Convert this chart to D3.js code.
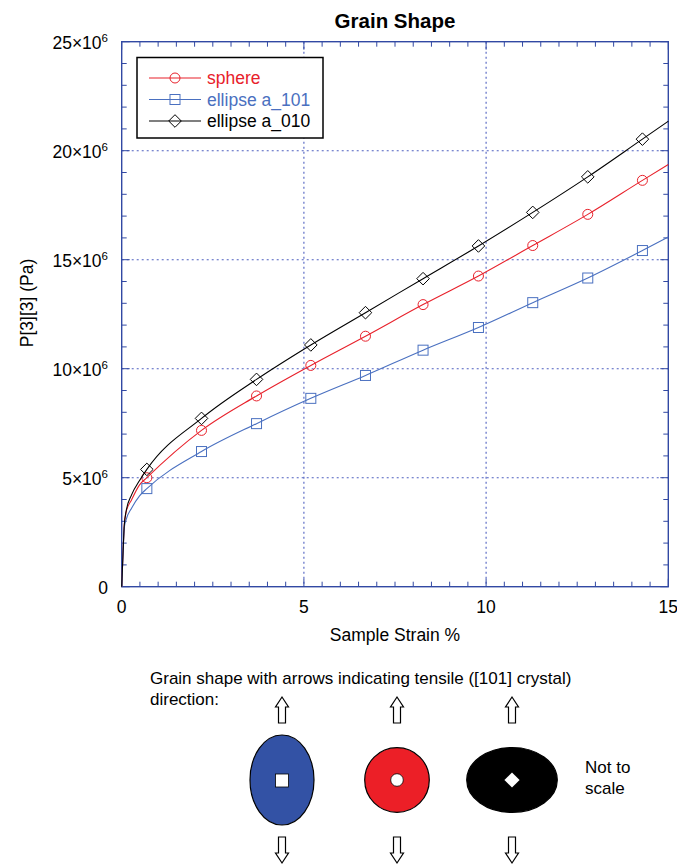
<!DOCTYPE html>
<html>
<head>
<meta charset="utf-8">
<script src="https://cdn.jsdelivr.net/npm/d3@7"></script>
<style>
  html, body { margin: 0; padding: 0; background: #fff; }
  svg { display: block; font-family: "Liberation Sans", Arial, Helvetica, sans-serif; }
</style>
</head>
<body>
<svg id="chart" width="677" height="865"></svg>
<script>
// Strain samples (%) along each simulated curve
const strain = [0, 0.04, 0.07, 0.12, 0.27, 0.49, 0.69, 2.19, 3.70, 5.19, 6.69, 8.27, 9.79, 11.28, 12.79, 14.29, 15];
// indices of the strain samples that carry a symbol
const markerIdx = [6, 7, 8, 9, 10, 11, 12, 13, 14, 15];

// P[3][3] stress in units of 10^6 Pa
const sphere   = [0, 1.70, 2.80, 3.42, 3.98, 4.67, 5.00, 7.17, 8.75, 10.15, 11.49, 12.94, 14.25, 15.65, 17.08, 18.64, 19.37];
const ellipse101 = [0, 1.68, 2.70, 3.07, 3.60, 4.17, 4.50, 6.20, 7.48, 8.64, 9.69, 10.85, 11.89, 13.03, 14.16, 15.42, 16.04];
const ellipse010 = [0, 1.70, 2.80, 3.45, 4.21, 4.87, 5.38, 7.72, 9.51, 11.09, 12.57, 14.13, 15.63, 17.17, 18.80, 20.53, 21.35];

const seriesNames = ["sphere", "ellipse a_101", "ellipse a_010"];
const seriesValues = [sphere, ellipse101, ellipse010];
const seriesColors = ["#e8212b", "#4a70c0", "#000000"];
const seriesSymbols = ["circle", "square", "diamond"];

const xTicks = [0, 5, 10, 15];
const yTicks = [0, 5, 10, 15, 20, 25];   // x 10^6

const svg = d3.select("#chart");
const frameColor = "#3249a3";
const gridColor = "#4f60c0";

const x = d3.scaleLinear().domain([0, 15]).range([121.7, 668.3]);
const y = d3.scaleLinear().domain([0, 25]).range([586.7, 41.7]);

// dotted grid
const grid = svg.append("g");
grid.selectAll("line.gx").data(xTicks.slice(1, -1)).join("line")
  .attr("x1", d => x(d)).attr("x2", d => x(d))
  .attr("y1", y(25)).attr("y2", y(0))
  .attr("stroke", gridColor).attr("stroke-width", 1.1).attr("stroke-dasharray", "2,3");
grid.selectAll("line.gy").data(yTicks.slice(1, -1)).join("line")
  .attr("x1", x(0)).attr("x2", x(15))
  .attr("y1", d => y(d)).attr("y2", d => y(d))
  .attr("stroke", gridColor).attr("stroke-width", 1.1).attr("stroke-dasharray", "2,3");

// inward ticks on all four sides
const ticks = svg.append("g").attr("stroke", frameColor).attr("stroke-width", 1);
const xMinor = d3.range(0, 15.01, 0.5);
const yMinor = d3.range(0, 25.01, 1);
xMinor.forEach(v => {
  const len = (v % 5 === 0) ? 8 : 5;
  ticks.append("line").attr("x1", x(v)).attr("x2", x(v)).attr("y1", y(0)).attr("y2", y(0) - len);
  ticks.append("line").attr("x1", x(v)).attr("x2", x(v)).attr("y1", y(25)).attr("y2", y(25) + len);
});
yMinor.forEach(v => {
  const len = (v % 5 === 0) ? 8 : 5;
  ticks.append("line").attr("x1", x(0)).attr("x2", x(0) + len).attr("y1", y(v)).attr("y2", y(v));
  ticks.append("line").attr("x1", x(15)).attr("x2", x(15) - len).attr("y1", y(v)).attr("y2", y(v));
});

// frame
svg.append("rect")
  .attr("x", x(0)).attr("y", y(25))
  .attr("width", x(15) - x(0)).attr("height", y(0) - y(25))
  .attr("fill", "none").attr("stroke", frameColor).attr("stroke-width", 1.4);

// x tick labels
svg.append("g").selectAll("text").data(xTicks).join("text")
  .attr("x", d => x(d)).attr("y", 613)
  .attr("text-anchor", "middle").attr("font-size", 17.5).text(d => d);

// y tick labels with power-of-ten notation
const yl = svg.append("g").selectAll("text").data(yTicks).join("text")
  .attr("x", 108).attr("y", d => y(d) + 7)
  .attr("text-anchor", "end").attr("font-size", 17.5);
yl.each(function(d) {
  const t = d3.select(this);
  if (d === 0) { t.text("0"); return; }
  t.append("tspan").text(d + "\u00d710");
  t.append("tspan").attr("font-size", 11.5).attr("dy", -7).text("6");
});

// axis titles
svg.append("text").attr("x", 395).attr("y", 641).attr("text-anchor", "middle")
  .attr("font-size", 17.5).text("Sample Strain %");
svg.append("text").attr("transform", "translate(33,303) rotate(-90)")
  .attr("text-anchor", "middle").attr("font-size", 17.5).text("P[3][3] (Pa)");
svg.append("text").attr("x", 395).attr("y", 27.5).attr("text-anchor", "middle")
  .attr("font-size", 20.5).attr("font-weight", "bold").text("Grain Shape");

// symbol drawing
function drawSymbol(g, kind, cx, cy, color) {
  if (kind === "circle") {
    g.append("circle").attr("cx", cx).attr("cy", cy).attr("r", 5)
      .attr("fill", "none").attr("stroke", color).attr("stroke-width", 1);
  } else if (kind === "square") {
    g.append("rect").attr("x", cx - 5).attr("y", cy - 5).attr("width", 10).attr("height", 10)
      .attr("fill", "none").attr("stroke", color).attr("stroke-width", 1);
  } else {
    const h = 6.3;
    g.append("path").attr("d", `M${cx},${cy - h}L${cx + h},${cy}L${cx},${cy + h}L${cx - h},${cy}Z`)
      .attr("fill", "none").attr("stroke", color).attr("stroke-width", 1);
  }
}

// curves
const line = d3.line().x(d => x(d[0])).y(d => y(d[1])).curve(d3.curveMonotoneX);
const plot = svg.append("g");
seriesValues.forEach((vals, i) => {
  const pts = strain.map((s, k) => [s, vals[k]]);
  plot.append("path").attr("d", line(pts))
    .attr("fill", "none").attr("stroke", seriesColors[i]).attr("stroke-width", 1.1);
  const mg = plot.append("g");
  markerIdx.forEach(k => drawSymbol(mg, seriesSymbols[i], x(strain[k]), y(vals[k]), seriesColors[i]));
});

// legend
const lg = svg.append("g");
lg.append("rect").attr("x", 137).attr("y", 57.5).attr("width", 186).attr("height", 80.5)
  .attr("fill", "#fff").attr("stroke", "#000").attr("stroke-width", 1.5);
seriesNames.forEach((name, i) => {
  const ly = 78 + i * 21.5;
  lg.append("line").attr("x1", 149).attr("x2", 201).attr("y1", ly).attr("y2", ly)
    .attr("stroke", seriesColors[i]).attr("stroke-width", 1.1);
  drawSymbol(lg, seriesSymbols[i], 175, ly, seriesColors[i]);
  lg.append("text").attr("x", 207).attr("y", ly + 6).attr("font-size", 17.5)
    .attr("fill", seriesColors[i]).text(name);
});

// grain shape sketch
const sketch = svg.append("g");
sketch.append("text").attr("x", 150).attr("y", 684).attr("font-size", 17)
  .text("Grain shape with arrows indicating tensile ([101] crystal)");
sketch.append("text").attr("x", 150).attr("y", 705).attr("font-size", 17).text("direction:");

const grainShapes = [
  { rx: 32, ry: 45, fill: "#3352a5", symbol: "square" },
  { rx: 32.3, ry: 32.3, fill: "#ec1f27", symbol: "circle" },
  { rx: 45.3, ry: 32.5, fill: "#000000", symbol: "diamond" }
];
const shapeX = [282, 397, 512];
const cyShape = 780;

function arrow(cx, tip, base, up) {
  const dir = up ? 1 : -1;
  const hb = tip + dir * 10;
  return `M${cx},${tip}L${cx + 6.5},${hb}L${cx + 3.5},${hb}L${cx + 3.5},${base}` +
         `L${cx - 3.5},${base}L${cx - 3.5},${hb}L${cx - 6.5},${hb}Z`;
}

grainShapes.forEach((g, i) => {
  const cx = shapeX[i];
  sketch.append("ellipse").attr("cx", cx).attr("cy", cyShape).attr("rx", g.rx).attr("ry", g.ry)
    .attr("fill", g.fill).attr("stroke", "#000").attr("stroke-width", 1.2);
  if (g.symbol === "square") {
    sketch.append("rect").attr("x", cx - 6.5).attr("y", cyShape - 6).attr("width", 13).attr("height", 13)
      .attr("fill", "#fff").attr("stroke", "#000").attr("stroke-width", 0.8);
  } else if (g.symbol === "circle") {
    sketch.append("circle").attr("cx", cx).attr("cy", cyShape).attr("r", 6.3)
      .attr("fill", "#fff").attr("stroke", "#000").attr("stroke-width", 0.8);
  } else {
    const h = 7.6;
    sketch.append("path").attr("d", `M${cx},${cyShape - h}L${cx + h},${cyShape}L${cx},${cyShape + h}L${cx - h},${cyShape}Z`)
      .attr("fill", "#fff");
  }
  sketch.append("path").attr("d", arrow(cx, 697, 723, true))
    .attr("fill", "#fff").attr("stroke", "#000").attr("stroke-width", 1.2).attr("stroke-linejoin", "miter");
  sketch.append("path").attr("d", arrow(cx, 863, 837, false))
    .attr("fill", "#fff").attr("stroke", "#000").attr("stroke-width", 1.2).attr("stroke-linejoin", "miter");
});

sketch.append("text").attr("x", 585).attr("y", 773).attr("font-size", 17).text("Not to");
sketch.append("text").attr("x", 585).attr("y", 794).attr("font-size", 17).text("scale");
</script>
</body>
</html>
